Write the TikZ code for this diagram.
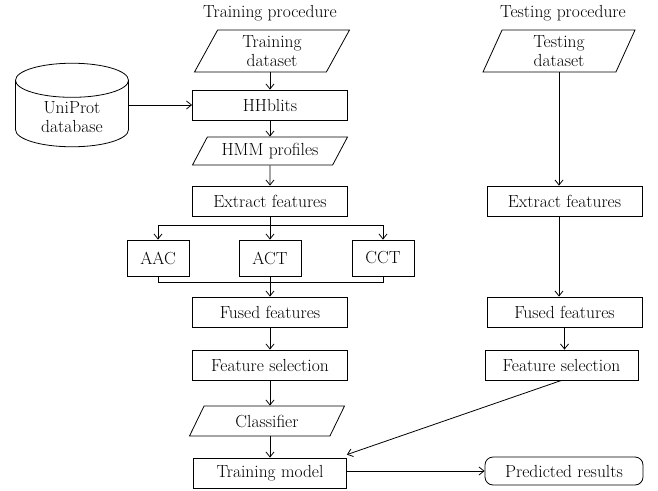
\documentclass[tikz,border=0pt]{standalone}
\usepackage{tikz}
\usetikzlibrary{shapes.geometric,arrows.meta}

\begin{document}
\begin{tikzpicture}[x=1pt,y=-1pt,line width=0.8pt,
		every node/.style={font=\fontsize{17.5}{19}\selectfont,align=center},
		box/.style={draw,rectangle,minimum width=155pt,minimum height=30pt,inner sep=1pt},
		small/.style={box,minimum width=62pt,minimum height=36pt},
		data/.style={draw,trapezium,trapezium left angle=55,trapezium right angle=125,
			trapezium stretches body,minimum width=155pt,inner sep=1pt},
		arr/.style={-{Straight Barb[length=5pt,width=8pt]}}]
		\useasboundingbox (0,0) rectangle (658,490);
		\begin{scope}
			\node (T1) at (270,13) {Training procedure};
			\node (T2) at (563,13) {Testing procedure};
		
			\node[data,minimum height=42pt] (td) at (272,51) {Training\\dataset};
			\node[draw,cylinder,shape border rotate=90,aspect=0.5,minimum width=113pt,minimum height=80pt,anchor=shape center] (uni) at (72,105) {UniProt\\database};
			\node[box] (hh) at (270,105) {HHblits};
			\node[data,minimum height=28pt,trapezium left angle=50,trapezium right angle=130] (hmm) at (270,151) {HMM profiles};
			\node[box] (ef) at (270,201) {Extract features};
		
			\node[small] (aac) at (158,258) {AAC};
			\node[small] (act) at (270,258) {ACT};
			\node[small] (cct) at (383,258) {CCT};
			\coordinate (split) at (270,225);
			\coordinate (merge) at (270,282);
		
			\node[box] (ff) at (270,312) {Fused features};
			\node[box] (fs) at (270,365) {Feature selection};
			\node[data,minimum height=30pt,trapezium left angle=45,trapezium right angle=135] (cl) at (267,421) {Classifier};
			\node[box,minimum width=153pt] (tm) at (270,473) {Training model};
			\node[draw,rounded corners=8pt,minimum width=158pt,minimum height=28pt,inner sep=1pt] (pr) at (564,471) {Predicted results};
		
			\node[data,minimum height=42pt,minimum width=152pt,trapezium left angle=60,trapezium right angle=120] (ttd) at (559,51) {Testing\\dataset};
			\node[box] (ef2) at (564.5,201) {Extract features};
			\node[box] (ff2) at (564.5,312) {Fused features};
			\node[box,minimum width=153pt] (fs2) at (561.5,365) {Feature selection};
		
			% training side
			\draw[arr] (td.south -| hh) to (hh);
			\draw[arr] (uni.east |- hh) to (hh);
			\draw[arr] (hh) to (hmm);
			\draw[arr] (hmm) to (ef);
			\draw (ef) to (split);
			\draw[arr] (split) -| (aac);
			\draw[arr] (split) -| (cct);
			\draw[arr] (split) to (act);
			\draw (aac) |- (merge);
			\draw (cct) |- (merge);
			\draw[arr] (act) to (ff);
			\draw[arr] (ff) to (fs);
			\draw[arr] (fs) to (fs |- cl.north);
			\draw[arr] (cl.south -| tm) to (tm);
			\draw[arr] (tm.east |- pr) to (pr);
		
			% testing side
			\draw[arr] (ttd.south) to (ttd.south |- ef2.north);
			\draw[arr] (ef2.south -| ttd.south) to (ttd.south |- ff2.north);
			\draw[arr] (ff2) to (ff2 |- fs2.north);
			\draw[arr] (fs2.south) to ([yshift=3pt]tm.north east);
		\end{scope}
	\end{tikzpicture}
\end{document}
